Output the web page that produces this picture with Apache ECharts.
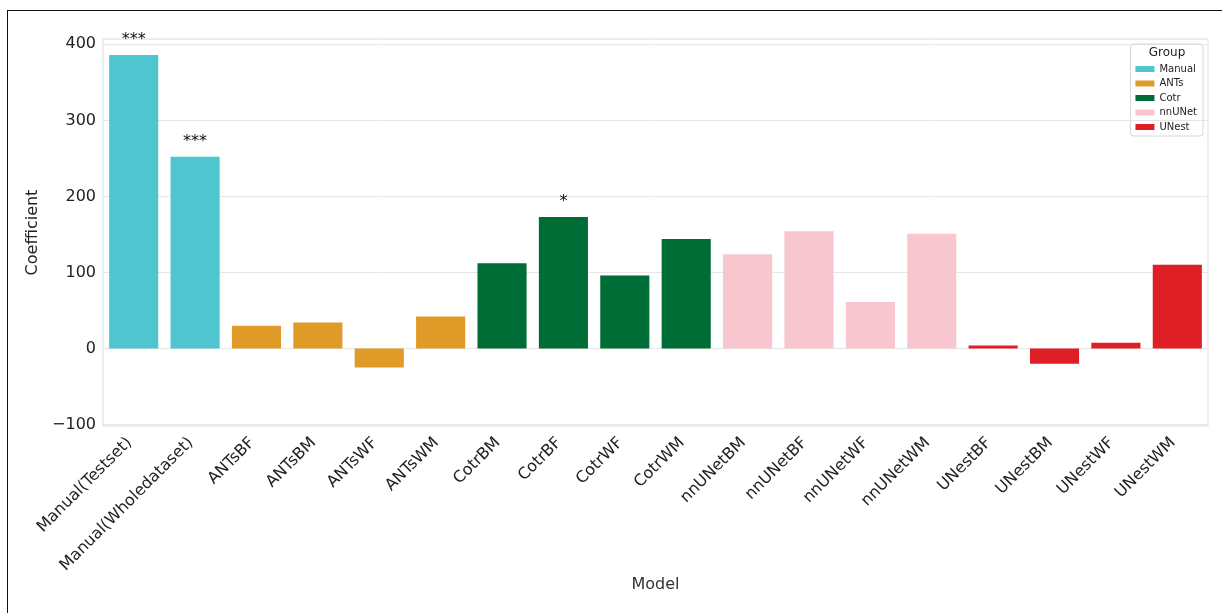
<!DOCTYPE html>
<html>
<head>
<meta charset="utf-8">
<script src="https://cdn.jsdelivr.net/npm/echarts@6/dist/echarts.min.js"></script>
<style>
html,body{margin:0;padding:0;background:#fff;}
#frame{position:absolute;left:7px;top:10px;width:1215px;height:603px;border-left:1.5px solid #111;border-top:1.5px solid #111;box-sizing:border-box;}
#chart{position:absolute;left:0;top:0;width:1222px;height:613px;}
</style>
</head>
<body>
<div id="frame"></div>
<div id="chart"></div>
<script>
const categories = ['Manual(Testset)','Manual(Wholedataset)','ANTsBF','ANTsBM','ANTsWF','ANTsWM','CotrBM','CotrBF','CotrWF','CotrWM','nnUNetBM','nnUNetBF','nnUNetWF','nnUNetWM','UNestBF','UNestBM','UNestWF','UNestWM'];
const values = [386, 252, 30, 34, -25, 42, 112, 173, 96, 144, 124, 154, 61, 151, 4, -20, 7.5, 110];
const groupOf = ['Manual','Manual','ANTs','ANTs','ANTs','ANTs','Cotr','Cotr','Cotr','Cotr','nnUNet','nnUNet','nnUNet','nnUNet','UNest','UNest','UNest','UNest'];
const annotations = ['***','***','','','','','','*','','','','','','','','','',''];
const groups = ['Manual','ANTs','Cotr','nnUNet','UNest'];
const groupColors = ['#4ec5cf','#df9a27','#006d37','#f7c6cf','#de1f26'];
const yTicks = [-100, 0, 100, 200, 300, 400];

const FONT = 'DejaVu Sans';
const series = groups.map((g, gi) => ({
  name: g,
  type: 'bar',
  stack: 'all',
  barCategoryGap: '20%',
  itemStyle: { color: groupColors[gi] },
  data: values.map((v, i) => {
    if (groupOf[i] !== g) return null;
    const item = { value: v };
    if (annotations[i]) {
      item.label = { show: true, position: 'top', formatter: annotations[i], distance: 7,
        fontSize: 16, color: '#111', fontFamily: FONT };
    }
    return item;
  }),
  markLine: gi === 0 ? {
    silent: true, symbol: 'none', label: { show: false },
    lineStyle: { color: '#e6e6e6', width: 1, type: 'solid' },
    z: 0,
    data: yTicks.map(t => ({ yAxis: t }))
  } : undefined
}));

const chart = echarts.init(document.getElementById('chart'), null, { renderer: 'canvas' });
chart.setOption({
  animation: false,
  backgroundColor: 'transparent',
  textStyle: { fontFamily: FONT },
  grid: { left: 103, right: 14, top: 39, bottom: 187, show: true, borderColor: '#dcdcdc', borderWidth: 1, containLabel: false },
  title: { text: 'Group', left: 1167, top: 47, textAlign: 'center', padding: 0,
    textStyle: { fontSize: 12, fontWeight: 'normal', color: '#222', fontFamily: FONT } },
  legend: {
    orient: 'vertical', right: 19, top: 44,
    padding: [19, 6, 3, 5],
    itemWidth: 19, itemHeight: 6, itemGap: 2.5,
    icon: 'rect',
    borderColor: '#d6d6d6', borderWidth: 1, borderRadius: 3,
    textStyle: { fontSize: 10, color: '#222', lineHeight: 12, fontFamily: FONT },
    data: groups
  },
  xAxis: {
    type: 'category',
    data: categories,
    name: 'Model', nameLocation: 'middle', nameGap: 151, nameMoveOverlap: false,
    nameTextStyle: { fontSize: 16, color: '#333', fontFamily: FONT },
    axisLine: { show: false }, axisTick: { show: false },
    axisLabel: { rotate: 45, fontSize: 16, color: '#222', margin: 10, interval: 0, fontFamily: FONT,
      padding: [0, 6, 0, 0] },
    splitLine: { show: false }
  },
  yAxis: {
    type: 'value', min: -102, max: 407,
    name: 'Coefficient', nameLocation: 'middle', nameRotate: 90, nameGap: 52,
    nameTextStyle: { fontSize: 16, color: '#222', fontFamily: FONT },
    axisLine: { show: false }, axisTick: { show: false },
    splitLine: { show: false },
    axisLabel: { customValues: yTicks, fontSize: 16, color: '#222', margin: 7, fontFamily: FONT,
      formatter: v => v < 0 ? '\u2212' + Math.abs(v) : String(v) }
  },
  series: series
});
</script>
</body>
</html>
